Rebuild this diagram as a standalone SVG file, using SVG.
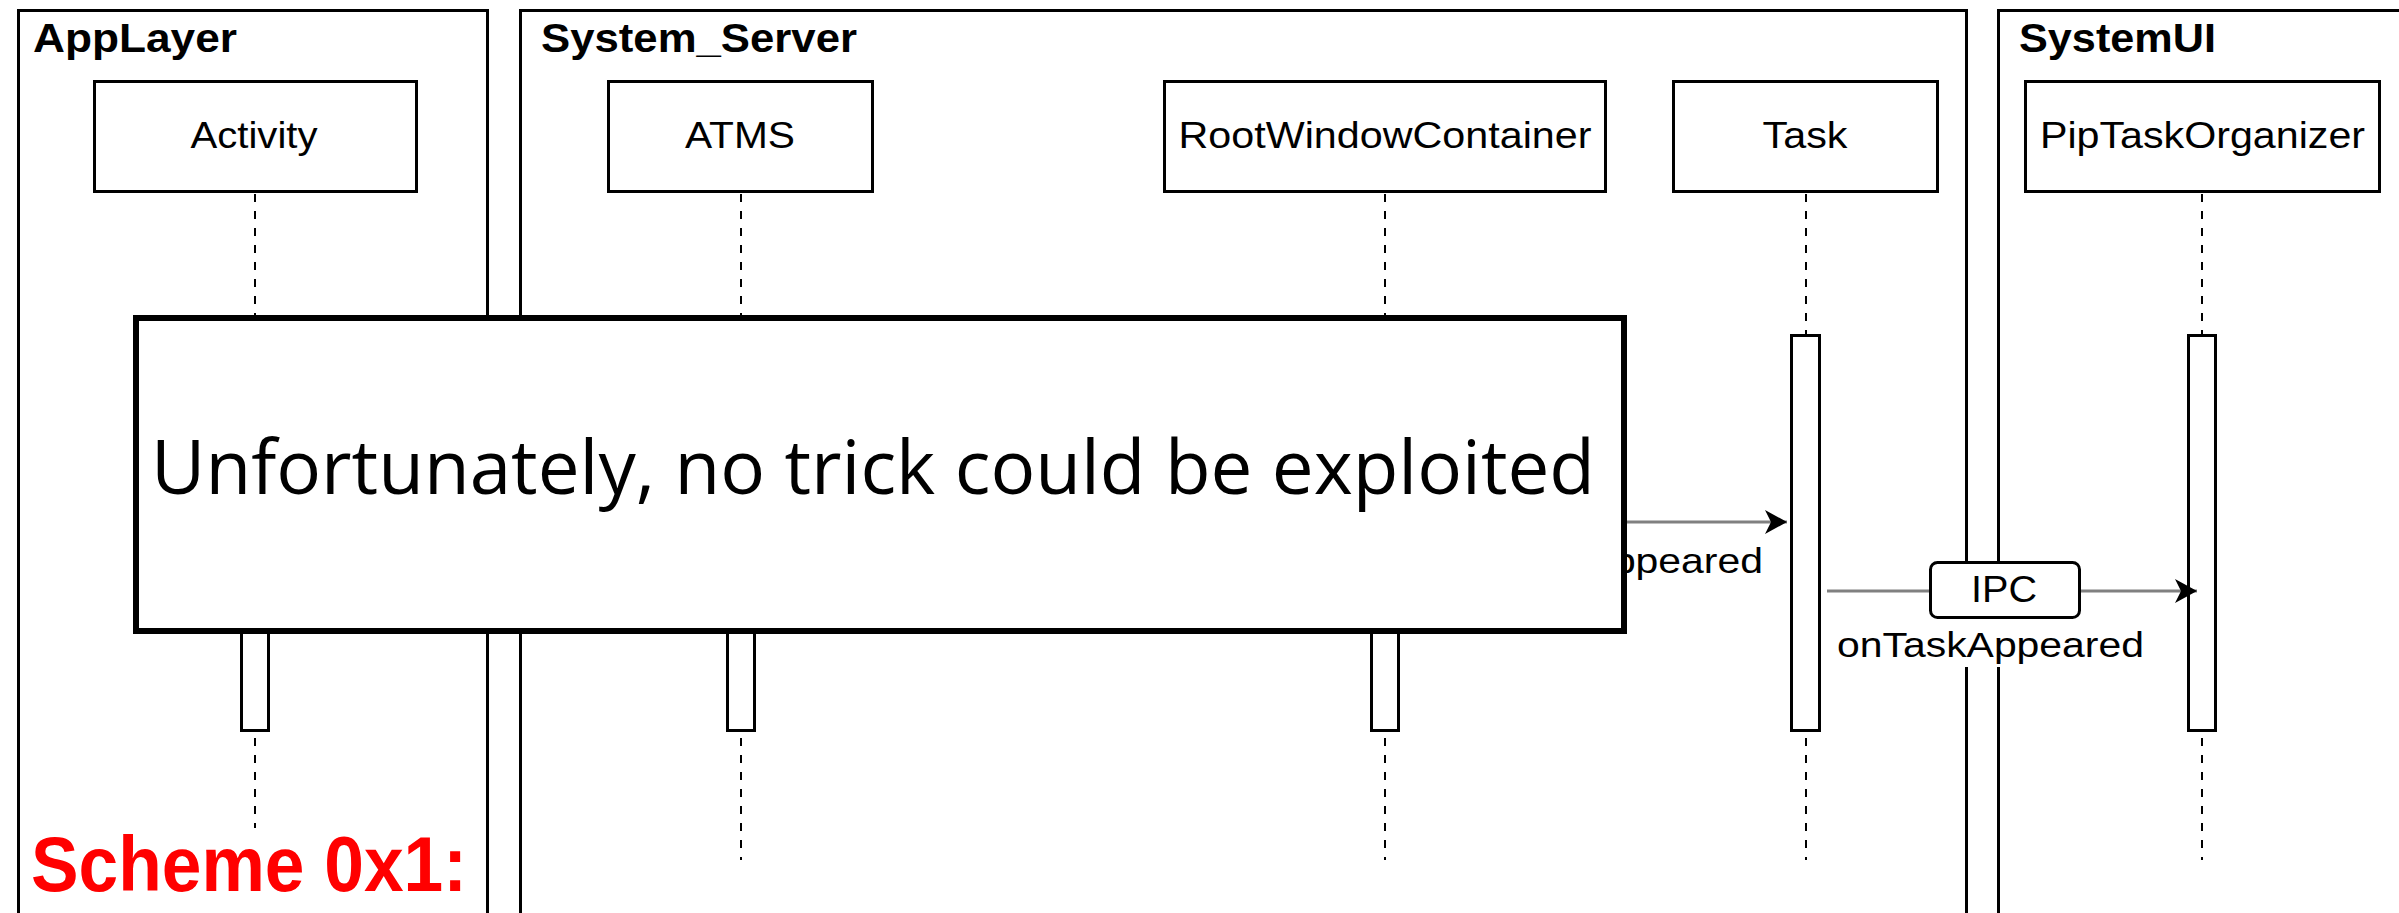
<svg xmlns="http://www.w3.org/2000/svg" width="2399" height="913" viewBox="0 0 2399 913">
<style>
.frame{fill:none;stroke:#000;stroke-width:3}
.ftitle{font-family:"Liberation Sans",Arial,sans-serif;font-weight:bold;font-size:40px;fill:#000}
.box{fill:#fff;stroke:#000;stroke-width:3}
.lbl{font-family:"Liberation Sans",Arial,sans-serif;font-size:37px;fill:#000;text-anchor:middle}
.life{stroke:#000;stroke-width:2;stroke-dasharray:8 9;fill:none}
.act{fill:#fff;stroke:#000;stroke-width:3}
.msg{stroke:#808080;stroke-width:3;fill:none}
.elbl{font-family:"Liberation Sans",Arial,sans-serif;font-size:35px;fill:#000}
</style>
<defs>
<marker id="arr" markerUnits="userSpaceOnUse" markerWidth="24" markerHeight="26" refX="22" refY="12" orient="auto">
<path d="M0,0 L22,12 L0,24 L6,12 Z" fill="#000"/>
</marker>
</defs>
<rect width="2399" height="913" fill="#fff"/>

<g id="frame-applayer">
<rect class="frame" x="18.5" y="10.5" width="469" height="1000"/>
<text class="ftitle" x="33" y="52" textLength="204" lengthAdjust="spacingAndGlyphs">AppLayer</text>
</g>
<g id="frame-system-server">
<rect class="frame" x="520.5" y="10.5" width="1446" height="1000"/>
<text class="ftitle" x="541" y="52" textLength="316" lengthAdjust="spacingAndGlyphs">System_Server</text>
</g>
<g id="frame-systemui">
<rect class="frame" x="1998.5" y="10.5" width="500" height="1000"/>
<text class="ftitle" x="2019" y="52" textLength="197" lengthAdjust="spacingAndGlyphs">SystemUI</text>
</g>

<g id="node-activity">
<line class="life" x1="255" y1="194" x2="255" y2="860"/>
<rect class="box" x="94.5" y="81.5" width="322" height="110"/>
<text class="lbl" x="254" y="148" textLength="127" lengthAdjust="spacingAndGlyphs">Activity</text>
<rect class="act" x="241.5" y="400" width="27" height="330.5"/>
</g>
<g id="node-atms">
<line class="life" x1="741" y1="194" x2="741" y2="860"/>
<rect class="box" x="608.5" y="81.5" width="264" height="110"/>
<text class="lbl" x="740" y="148" textLength="110" lengthAdjust="spacingAndGlyphs">ATMS</text>
<rect class="act" x="727.5" y="400" width="27" height="330.5"/>
</g>
<g id="node-rootwindowcontainer">
<line class="life" x1="1385" y1="194" x2="1385" y2="860"/>
<rect class="box" x="1164.5" y="81.5" width="441" height="110"/>
<text class="lbl" x="1385" y="148" textLength="413" lengthAdjust="spacingAndGlyphs">RootWindowContainer</text>
<rect class="act" x="1371.5" y="400" width="27" height="330.5"/>
</g>
<g id="node-task">
<line class="life" x1="1806" y1="194" x2="1806" y2="860"/>
<rect class="box" x="1673.5" y="81.5" width="264" height="110"/>
<text class="lbl" x="1805" y="148" textLength="85" lengthAdjust="spacingAndGlyphs">Task</text>
<rect class="act" x="1791.5" y="335.5" width="28" height="395"/>
</g>
<g id="node-piptaskorganizer">
<line class="life" x1="2202" y1="194" x2="2202" y2="860"/>
<rect class="box" x="2025.5" y="81.5" width="354" height="110"/>
<text class="lbl" x="2202.5" y="148" textLength="325" lengthAdjust="spacingAndGlyphs">PipTaskOrganizer</text>
<rect class="act" x="2188.5" y="335.5" width="27" height="395"/>
</g>

<g id="connectors">
<line class="msg" x1="1400" y1="522" x2="1787" y2="522" marker-end="url(#arr)"/>
<rect x="1454" y="550" width="312" height="34" fill="#fff"/>
<text class="elbl" x="1456" y="573" textLength="307" lengthAdjust="spacingAndGlyphs">onTaskAppeared</text>
<line class="msg" x1="1827" y1="591" x2="2197" y2="591" marker-end="url(#arr)"/>
<rect x="1834" y="618" width="313" height="49" fill="#fff"/>
<text class="elbl" x="1837" y="657" textLength="307" lengthAdjust="spacingAndGlyphs">onTaskAppeared</text>
<g id="ipc">
<rect x="1930.5" y="562.5" width="149" height="55" rx="7" fill="#fff" stroke="#000" stroke-width="3"/>
<text class="lbl" x="2004" y="602" font-size="38" textLength="66" lengthAdjust="spacingAndGlyphs">IPC</text>
</g>
</g>

<g id="overlay">
<rect x="136" y="318" width="1488" height="313" fill="#fff" stroke="#000" stroke-width="6"/>
<text x="151" y="494" font-family="'Open Sans','Liberation Sans',Arial,sans-serif" font-size="75" fill="#000" textLength="1444" lengthAdjust="spacingAndGlyphs">Unfortunately, no trick could be exploited</text>
</g>

<g id="scheme-label">
<rect x="29" y="828" width="442" height="75" fill="#fff"/>
<text x="31" y="891" font-family="'Liberation Sans',Arial,sans-serif" font-weight="bold" font-size="77" fill="#ff0000" textLength="436" lengthAdjust="spacingAndGlyphs">Scheme 0x1:</text>
</g>
</svg>
